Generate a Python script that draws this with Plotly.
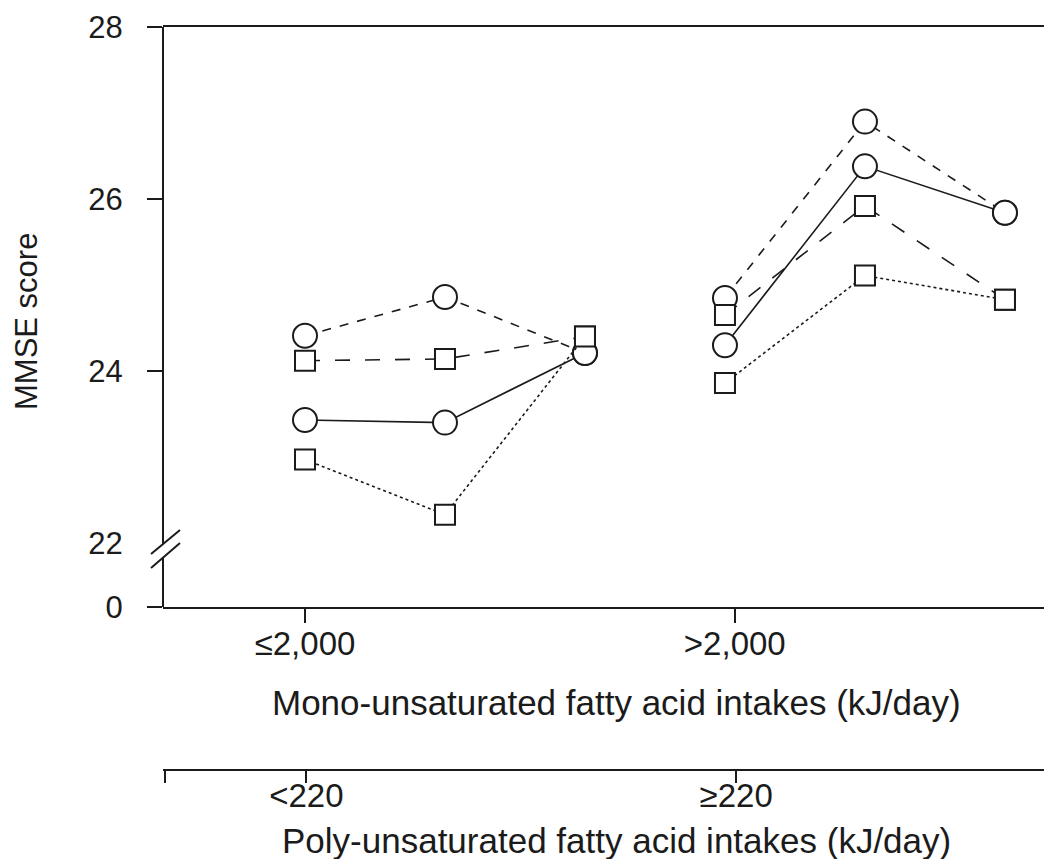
import plotly.graph_objects as go

# ---------------- data ----------------
x_left = [1, 2, 3]
x_right = [4, 5, 6]

# low mono-unsaturated group (<=2,000 kJ/day)
left_circle_high = [24.41, 24.86, 24.21]
left_square_high = [24.12, 24.14, 24.40]
left_circle_low = [23.43, 23.40, 24.21]
left_square_low = [22.97, 22.33, 24.40]

# high mono-unsaturated group (>2,000 kJ/day)
right_circle_high = [24.85, 26.90, 25.84]
right_square_high = [24.65, 25.92, 24.83]
right_circle_low = [24.30, 26.38, 25.84]
right_square_low = [23.86, 25.11, 24.83]

mono_tick_labels = ["≤2,000", ">2,000"]
poly_tick_labels = ["<220", "≥220"]
y_tick_labels = ["0", "24", "26", "28"]
y_break_label = ["22"]

# ---------------- layout helpers ----------------
INK = "#1b1b1b"
FONT = "Liberation Sans, Arial, Helvetica, sans-serif"
ZERO_POS = 21.256          # where the "0" of the broken axis sits
Y_TOP = 28
X_RANGE = [-0.0143, 6.336]
mono_tick_pos = [1.0, 4.07]
poly_tick_pos = [0.0, 1.01, 4.08]

OFF = 8  # page body margin of the html page
W, H = 1052 - OFF, 859 - OFF
ml, mr, mt, mb = 163 - OFF, 0, 27 - OFF, 89
ph = H - mt - mb
y_dom0 = (H - mb - (607 - OFF)) / ph

fig = go.Figure()

series = [
    (x_left, left_circle_high, "circle", "dash"),
    (x_left, left_square_high, "square", "longdash"),
    (x_left, left_circle_low, "circle", "solid"),
    (x_left, left_square_low, "square", "dot"),
    (x_right, right_circle_high, "circle", "dash"),
    (x_right, right_square_high, "square", "longdash"),
    (x_right, right_circle_low, "circle", "solid"),
    (x_right, right_square_low, "square", "dot"),
]
for xs, ys, sym, dash in series:
    fig.add_trace(go.Scatter(
        x=xs, y=ys, mode="lines+markers",
        line=dict(color=INK, width=1.6, dash=dash),
        marker=dict(symbol=sym, size=24 if sym == "circle" else 20,
                    color="white", line=dict(color=INK, width=2)),
        showlegend=False, cliponaxis=False, hoverinfo="x+y",
    ))

# helper traces so the extra axes are drawn
fig.add_trace(go.Scatter(x=[None], y=[None], xaxis="x2", yaxis="y",
                         showlegend=False, hoverinfo="skip"))
fig.add_trace(go.Scatter(x=[None], y=[None], xaxis="x", yaxis="y2",
                         showlegend=False, hoverinfo="skip"))

fig.update_layout(
    width=W, height=H,
    margin=dict(l=ml, r=mr, t=mt, b=mb, pad=0),
    plot_bgcolor="white", paper_bgcolor="white",
    font=dict(family=FONT, color=INK, size=30),
    xaxis=dict(
        range=X_RANGE, tickvals=mono_tick_pos, ticktext=mono_tick_labels,
        ticks="outside", ticklen=14, tickwidth=2, tickcolor=INK,
        showline=True, linewidth=2, linecolor=INK, mirror=True,
        showgrid=False, zeroline=False, tickfont=dict(size=33),
        ticklabelstandoff=-8,
    ),
    xaxis2=dict(
        range=X_RANGE, overlaying="x", anchor="free", position=0,
        tickvals=poly_tick_pos, ticktext=[""] + poly_tick_labels,
        ticks="outside", ticklen=12, tickwidth=2, tickcolor=INK,
        showline=True, linewidth=2, linecolor=INK,
        showgrid=False, zeroline=False, tickfont=dict(size=33),
        ticklabelstandoff=-16,
    ),
    yaxis=dict(
        domain=[y_dom0, 1], range=[ZERO_POS, Y_TOP],
        tickvals=[ZERO_POS, 24, 26, 28], ticktext=y_tick_labels,
        ticks="outside", ticklen=15, tickwidth=2, tickcolor=INK,
        showline=False, showgrid=False, zeroline=False,
        tickfont=dict(size=31), ticklabelstandoff=18,
    ),
    yaxis2=dict(
        overlaying="y", range=[ZERO_POS, Y_TOP], side="left",
        tickvals=[22], ticktext=y_break_label,
        ticks="outside", ticklen=15, tickwidth=2,
        tickcolor="rgba(0,0,0,0)",
        showline=False, showgrid=False, zeroline=False,
        tickfont=dict(size=31), ticklabelstandoff=18,
    ),
)


def px_x(p):
    return (p - OFF - ml) / (W - ml - mr)


def py(p):
    return (H - mb - (p - OFF)) / ph


# broken y-axis line and break marks
fig.add_shape(type="line", xref="paper", yref="y", x0=0, x1=0, y0=Y_TOP, y1=21.99,
              line=dict(color=INK, width=2))
fig.add_shape(type="line", xref="paper", yref="y", x0=0, x1=0, y0=21.83, y1=ZERO_POS,
              line=dict(color=INK, width=2))
fig.add_shape(type="line", xref="paper", yref="y", x0=px_x(151), x1=px_x(180),
              y0=21.872, y1=22.151, line=dict(color=INK, width=2))
fig.add_shape(type="line", xref="paper", yref="y", x0=px_x(151), x1=px_x(180),
              y0=21.709, y1=22.0, line=dict(color=INK, width=2))

fig.add_annotation(text="MMSE score", xref="paper", yref="paper",
                   x=px_x(26), y=py(322), textangle=-90, showarrow=False,
                   xanchor="center", yanchor="middle", font=dict(size=31))
fig.add_annotation(text="Mono-unsaturated fatty acid intakes (kJ/day)",
                   xref="paper", yref="paper", x=px_x(616), y=py(702),
                   showarrow=False, xanchor="center", yanchor="middle",
                   font=dict(size=35))
fig.add_annotation(text="Poly-unsaturated fatty acid intakes (kJ/day)",
                   xref="paper", yref="paper", x=px_x(616), y=py(840),
                   showarrow=False, xanchor="center", yanchor="middle",
                   font=dict(size=35))

fig.write_html("out.html")
